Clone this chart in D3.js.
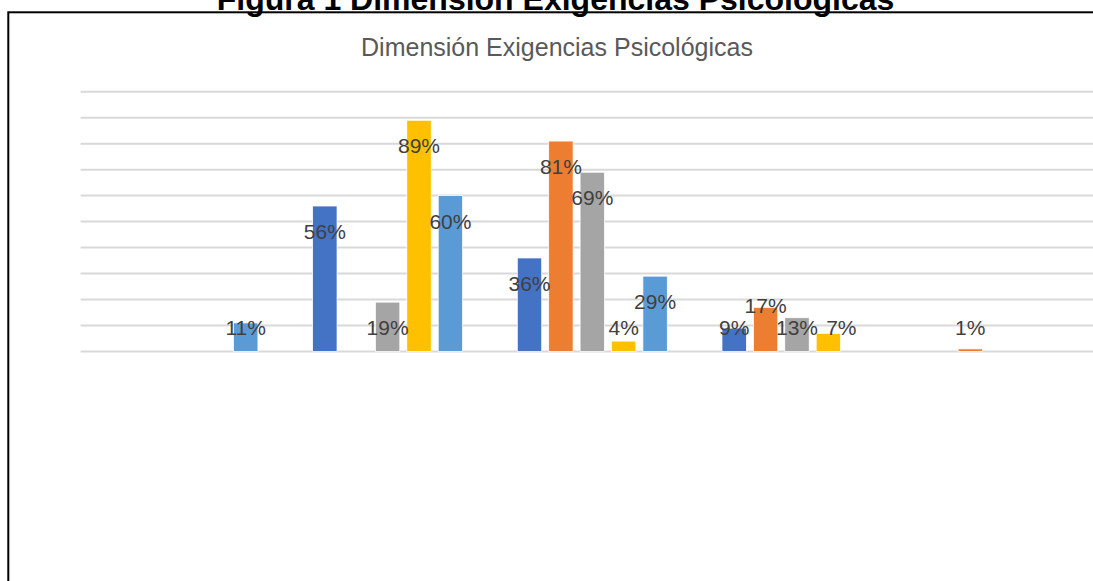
<!DOCTYPE html>
<meta charset="utf-8">
<style>
body { margin: 0; background: #fff; }
svg { display: block; font-family: "Liberation Sans", Arial, sans-serif; }
.grid line { stroke: #d9d9d9; stroke-width: 2px; }
.label { fill: #404040; font-size: 21px; }
</style>
<body>
<script src="https://cdn.jsdelivr.net/npm/d3@7/dist/d3.min.js"></script>
<script>

// categories (x axis labels are hidden in the original chart)
var categories = ["Grupo 1", "Grupo 2", "Grupo 3", "Grupo 4", "Grupo 5"];
var seriesNames = ["Siempre", "Muchas veces", "Algunas veces", "Sólo alguna vez", "Nunca"];

// series values, in percent, one per category
var siempre      = [0, 56, 36, 9, 0];
var muchasVeces  = [0, 0, 81, 17, 1];
var algunasVeces = [0, 19, 69, 13, 0];
var soloAlguna   = [0, 89, 4, 7, 0];
var nunca        = [11, 60, 29, 0, 0];

var yTicks = [0, 10, 20, 30, 40, 50, 60, 70, 80, 90, 100];

var colors = ["#4472c4", "#ed7d31", "#a5a5a5", "#ffc000", "#5b9bd5"];

var allSeries = [siempre, muchasVeces, algunasVeces, soloAlguna, nunca];

var W = 1093, H = 581;
var svg = d3.select("body").append("svg")
    .attr("width", W)
    .attr("height", H);

// outer caption (clipped at top, like the source)
svg.append("text")
    .attr("x", 555.5)
    .attr("y", 10)
    .attr("text-anchor", "middle")
    .style("font-weight", "bold")
    .style("font-size", "32px")
    .attr("fill", "#000")
    .text("Figura 1 Dimensión Exigencias Psicológicas");

// chart frame
svg.append("rect")
    .attr("x", 8.3)
    .attr("y", 12.3)
    .attr("width", 1200)
    .attr("height", 700)
    .attr("fill", "none")
    .attr("stroke", "#000")
    .attr("stroke-width", 2);

// chart title
svg.append("text")
    .attr("x", 557)
    .attr("y", 56)
    .attr("text-anchor", "middle")
    .attr("fill", "#595959")
    .style("font-size", "25px")
    .text("Dimensión Exigencias Psicológicas");

// scales
var x0 = d3.scaleBand()
    .domain(categories)
    .range([80.6, 1104]);

var x1 = d3.scaleBand()
    .domain(seriesNames)
    .range([0, x0.bandwidth()])
    .paddingInner(0.223)
    .paddingOuter(0.871);

var y = d3.scaleLinear()
    .domain([0, 100])
    .range([351.5, 91.7]);

// gridlines
svg.append("g")
    .attr("class", "grid")
  .selectAll("line")
  .data(yTicks)
  .enter().append("line")
    .attr("x1", 80.6)
    .attr("x2", 1104)
    .attr("y1", function(d) { return y(d); })
    .attr("y2", function(d) { return y(d); });

// flatten the data
var rows = [];
allSeries.forEach(function(vals, s) {
  vals.forEach(function(v, c) {
    rows.push({ s: s, c: c, value: v });
  });
});

var bars = rows.filter(function(d) { return d.value > 0; });

svg.append("g")
  .selectAll("rect")
  .data(bars)
  .enter().append("rect")
    .attr("x", function(d) { return x0(categories[d.c]) + x1(seriesNames[d.s]); })
    .attr("y", function(d) { return y(d.value); })
    .attr("width", x1.bandwidth())
    .attr("height", function(d) { return y(0) - y(d.value); })
    .attr("fill", function(d) { return colors[d.s]; })
    .attr("stroke", "#fff")
    .attr("stroke-width", 0.75);

// labels: inside end, but never lower than a fixed row near the base
var lowRow = y(0) - 23.7;
// a couple of hand moved labels in the source (avoid overlapping)
var nudge = { "1|3": [0, -22], "3|3": [13, 0] };

svg.append("g")
  .selectAll("text")
  .data(bars)
  .enter().append("text")
    .attr("class", "label")
    .attr("text-anchor", "middle")
    .attr("x", function(d) {
      var n = nudge[d.s + "|" + d.c] || [0, 0];
      return x0(categories[d.c]) + x1(seriesNames[d.s]) + x1.bandwidth() / 2 + n[0];
    })
    .attr("y", function(d) {
      var n = nudge[d.s + "|" + d.c] || [0, 0];
      return Math.min(y(d.value) + 25.5, lowRow) + 7.5 + n[1];
    })
    .text(function(d) { return d.value + "%"; });

</script>
</body>
